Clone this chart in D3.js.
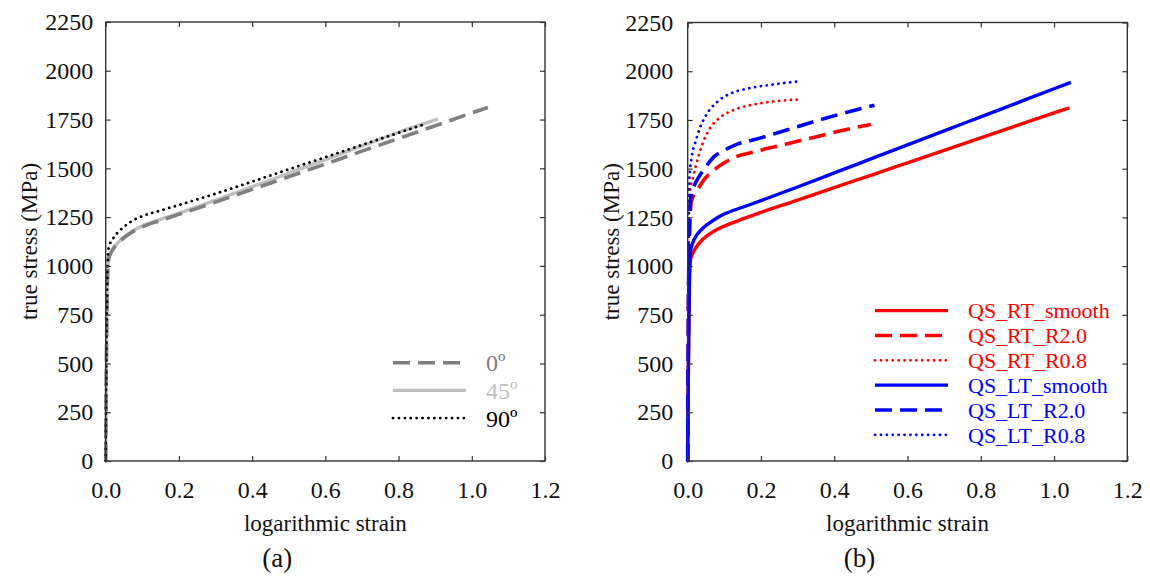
<!DOCTYPE html>
<html lang="en">
<head>
  <meta charset="utf-8">
  <script src="https://d3js.org/d3.v7.min.js"></script>
  <style>
    body { margin: 0; background: #fff; }
  </style>
</head>
<body>
  <script>
    // ---- data: [logarithmic strain, true stress MPa] ----
    var xTicks = [0, 0.2, 0.4, 0.6, 0.8, 1.0, 1.2];
    var yTicks = [0, 250, 500, 750, 1000, 1250, 1500, 1750, 2000, 2250];

    // panel (a)
    var deg0 = [[0,0],[0.001,300],[0.003,700],[0.005,950],[0.008,1035],[0.012,1058],[0.02,1085],[0.04,1128],[0.06,1158],[0.08,1182],[0.1,1200],[0.15,1233],[0.2,1264],[0.3,1327],[0.4,1392],[0.5,1457],[0.6,1522],[0.7,1588],[0.8,1653],[0.9,1718],[1.0,1784],[1.044,1812]];
    var deg45 = [[0,0],[0.001,300],[0.003,700],[0.005,950],[0.008,1038],[0.012,1062],[0.02,1088],[0.04,1132],[0.06,1162],[0.08,1186],[0.1,1204],[0.15,1238],[0.2,1270],[0.3,1337],[0.4,1405],[0.5,1475],[0.6,1545],[0.7,1615],[0.8,1685],[0.907,1752]];
    var deg90 = [[0,0],[0.001,350],[0.003,750],[0.005,1000],[0.008,1090],[0.012,1115],[0.02,1140],[0.03,1165],[0.05,1200],[0.07,1228],[0.1,1255],[0.15,1284],[0.2,1312],[0.3,1370],[0.4,1432],[0.5,1495],[0.6,1557],[0.7,1620],[0.8,1682],[0.873,1727]];

    // panel (b)
    var rtSmooth = [[0,0],[0.001,300],[0.003,700],[0.005,950],[0.008,1035],[0.012,1058],[0.02,1088],[0.04,1135],[0.06,1165],[0.08,1188],[0.1,1205],[0.15,1242],[0.2,1276],[0.3,1339],[0.4,1403],[0.5,1466],[0.6,1530],[0.7,1594],[0.8,1658],[0.9,1722],[1.0,1786],[1.042,1812]];
    var rtR20 = [[0,0],[0.001,350],[0.002,750],[0.004,1050],[0.006,1220],[0.008,1300],[0.011,1338],[0.025,1385],[0.043,1440],[0.07,1490],[0.1,1530],[0.134,1563],[0.18,1585],[0.216,1603],[0.27,1627],[0.36,1668],[0.43,1700],[0.5,1727]];
    var rtR08 = [[0,0],[0.001,400],[0.002,800],[0.003,1100],[0.004,1300],[0.006,1380],[0.015,1458],[0.029,1561],[0.043,1640],[0.061,1708],[0.088,1762],[0.134,1807],[0.188,1832],[0.25,1848],[0.311,1856]];
    var ltSmooth = [[0,0],[0.001,300],[0.003,700],[0.005,980],[0.008,1080],[0.012,1110],[0.025,1160],[0.04,1192],[0.06,1222],[0.08,1247],[0.1,1267],[0.15,1302],[0.2,1336],[0.3,1406],[0.4,1478],[0.5,1550],[0.6,1622],[0.7,1694],[0.8,1766],[0.9,1838],[1.0,1910],[1.046,1943]];
    var ltR20 = [[0,0],[0.001,400],[0.002,800],[0.004,1150],[0.006,1300],[0.009,1360],[0.015,1400],[0.025,1440],[0.043,1492],[0.07,1558],[0.1,1595],[0.134,1625],[0.18,1648],[0.27,1698],[0.36,1750],[0.44,1792],[0.51,1826]];
    var ltR08 = [[0,0],[0.0008,400],[0.0015,800],[0.002,1100],[0.003,1350],[0.005,1460],[0.011,1561],[0.02,1629],[0.034,1712],[0.052,1780],[0.079,1840],[0.115,1884],[0.161,1910],[0.225,1930],[0.311,1950]];

    var legendA = ["0º", "45º", "90º"];
    var legendB = ["QS_RT_smooth", "QS_RT_R2.0", "QS_RT_R0.8", "QS_LT_smooth", "QS_LT_R2.0", "QS_LT_R0.8"];

    var serif = "'Liberation Serif', 'Times New Roman', Tinos, 'Nimbus Roman', 'Nimbus Roman No9 L', FreeSerif, 'Noto Serif', 'DejaVu Serif', 'Noto Serif CJK SC', serif";

    var styles = {
      dashed: { dash: "17,8", width: 3.6, cap: "butt" },
      solid: { dash: null, width: 3.4, cap: "butt" },
      dotted: { dash: "0.1,5.8", width: 2.8, cap: "round" }
    };

    var svg = d3.select("body").append("svg")
      .attr("width", 1150)
      .attr("height", 581);

    // series listed in legend order; "z" is the drawing order
    var panelA = {
      left: 105.7, right: 545, top: 22, bottom: 461,
      yLabelX: 29, labelPad: 12.5, caption: "(a)",
      series: [
        { data: deg0, name: legendA[0], color: "#808080", style: "dashed", z: 1 },
        { data: deg45, name: legendA[1], color: "#c0c0c0", style: "solid", z: 0 },
        { data: deg90, name: legendA[2], color: "#000000", style: "dotted", z: 2 }
      ],
      legend: { x1: 393, x2: 466, textX: 486, y0: 362.7, step: 27.7, size: 24 }
    };

    var panelB = {
      left: 687.7, right: 1127.3, top: 22.5, bottom: 461,
      yLabelX: 611, labelPad: 14.5, caption: "(b)",
      series: [
        { data: rtSmooth, name: legendB[0], color: "#ff0000", style: "solid", z: 0 },
        { data: rtR20, name: legendB[1], color: "#ff0000", style: "dashed", z: 1 },
        { data: rtR08, name: legendB[2], color: "#ff0000", style: "dotted", z: 2 },
        { data: ltSmooth, name: legendB[3], color: "#0000ff", style: "solid", z: 3 },
        { data: ltR20, name: legendB[4], color: "#0000ff", style: "dashed", z: 4 },
        { data: ltR08, name: legendB[5], color: "#0000ff", style: "dotted", z: 5 }
      ],
      legend: { x1: 875, x2: 948, textX: 968, y0: 310.6, step: 24.85, size: 22 }
    };

    drawPanel(panelA);
    drawPanel(panelB);

    function drawPanel(cfg) {
      var x = d3.scaleLinear().domain([0, 1.2]).range([cfg.left, cfg.right]);
      var y = d3.scaleLinear().domain([0, 2250]).range([cfg.bottom, cfg.top]);

      var g = svg.append("g");

      var line = d3.line()
        .x(d => x(d[0]))
        .y(d => y(d[1]))
        .curve(d3.curveMonotoneX);

      cfg.series.slice().sort((a, b) => a.z - b.z).forEach(function(s) {
        var st = styles[s.style];
        g.append("path")
          .datum(s.data)
          .attr("d", line)
          .attr("fill", "none")
          .attr("stroke", s.color)
          .attr("stroke-width", st.width)
          .attr("stroke-linecap", st.cap)
          .attr("stroke-dasharray", st.dash);
      });

      // axes, ticks pointing inward on all four sides
      var bottomAxis = g.append("g")
        .attr("transform", "translate(0," + cfg.bottom + ")")
        .call(d3.axisBottom(x).tickValues(xTicks).tickFormat(d3.format(".1f"))
          .tickSizeInner(-5).tickSizeOuter(0).tickPadding(20));
      var topAxis = g.append("g")
        .attr("transform", "translate(0," + cfg.top + ")")
        .call(d3.axisTop(x).tickValues(xTicks).tickFormat("")
          .tickSizeInner(-5).tickSizeOuter(0));
      var leftAxis = g.append("g")
        .attr("transform", "translate(" + cfg.left + ",0)")
        .call(d3.axisLeft(y).tickValues(yTicks).tickFormat(d3.format("d"))
          .tickSizeInner(-5).tickSizeOuter(0).tickPadding(cfg.labelPad));
      var rightAxis = g.append("g")
        .attr("transform", "translate(" + cfg.right + ",0)")
        .call(d3.axisRight(y).tickValues(yTicks).tickFormat("")
          .tickSizeInner(-5).tickSizeOuter(0));

      [bottomAxis, topAxis, leftAxis, rightAxis].forEach(function(a) {
        a.attr("font-family", serif).attr("font-size", 24);
        a.select(".domain").remove();
        a.selectAll("line").attr("stroke", "#333").attr("stroke-width", 1.2);
        a.selectAll("text").attr("fill", "#111");
      });

      g.append("rect")
        .attr("x", cfg.left)
        .attr("y", cfg.top)
        .attr("width", cfg.right - cfg.left)
        .attr("height", cfg.bottom - cfg.top)
        .attr("fill", "none")
        .attr("stroke", "#333")
        .attr("stroke-width", 1.4);

      g.append("text")
        .attr("x", (cfg.left + cfg.right) / 2)
        .attr("y", 531)
        .attr("text-anchor", "middle")
        .attr("font-family", serif)
        .attr("font-size", 23)
        .attr("fill", "#111")
        .text("logarithmic strain");

      g.append("text")
        .attr("transform", "translate(" + cfg.yLabelX + "," + (cfg.top + cfg.bottom) / 2 + ") rotate(-90)")
        .attr("text-anchor", "middle")
        .attr("dy", "0.35em")
        .attr("font-family", serif)
        .attr("font-size", 23)
        .attr("fill", "#111")
        .text("true stress (MPa)");

      g.append("text")
        .attr("x", (cfg.left + cfg.right) / 2 - 48)
        .attr("y", 567)
        .attr("text-anchor", "middle")
        .attr("font-family", serif)
        .attr("font-size", 27)
        .attr("fill", "#111")
        .text(cfg.caption);

      // legend
      var lg = cfg.legend;
      var items = g.append("g").selectAll("g")
        .data(cfg.series)
        .enter().append("g")
          .attr("transform", (d, i) => "translate(0," + (lg.y0 + i * lg.step) + ")");

      items.append("line")
        .attr("x1", lg.x1)
        .attr("x2", d => d.style == "dashed" ? lg.x2 - 6 : lg.x2)
        .attr("stroke", d => d.color)
        .attr("stroke-width", d => styles[d.style].width)
        .attr("stroke-linecap", d => styles[d.style].cap)
        .attr("stroke-dasharray", d => styles[d.style].dash);

      items.append("text")
        .attr("x", lg.textX)
        .attr("dy", "0.35em")
        .attr("font-family", serif)
        .attr("font-size", lg.size)
        .attr("fill", d => d.color)
        .text(d => d.name);
    }
  </script>
</body>
</html>
